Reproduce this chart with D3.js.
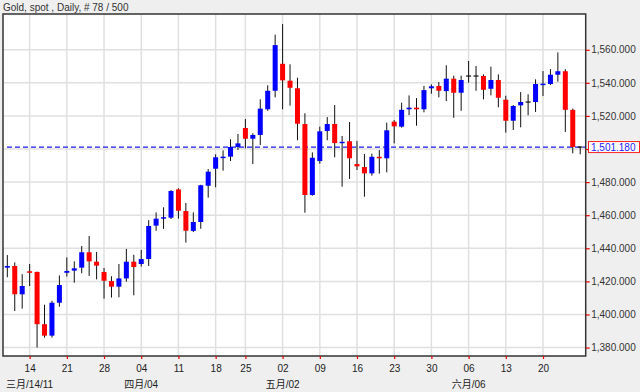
<!DOCTYPE html>
<html>
<head>
<meta charset="utf-8">
<script src="https://cdn.jsdelivr.net/npm/d3@7"></script>
<style>
  html, body { margin: 0; padding: 0; background: #efefef; }
  svg { display: block; font-family: "Liberation Sans", Arial, "Noto Sans CJK SC", sans-serif; }
</style>
</head>
<body>
<svg></svg>
<script>
// DATA ////////////////////////////////////////////////////////////////////////
const title = 'Gold, spot , Daily, # 78 / 500';

const dates = [
  '2011-03-09','2011-03-10','2011-03-11',
  '2011-03-14','2011-03-15','2011-03-16','2011-03-17','2011-03-18',
  '2011-03-21','2011-03-22','2011-03-23','2011-03-24','2011-03-25',
  '2011-03-28','2011-03-29','2011-03-30','2011-03-31','2011-04-01',
  '2011-04-04','2011-04-05','2011-04-06','2011-04-07','2011-04-08',
  '2011-04-11','2011-04-12','2011-04-13','2011-04-14','2011-04-15',
  '2011-04-18','2011-04-19','2011-04-20','2011-04-21',
  '2011-04-25','2011-04-26','2011-04-27','2011-04-28','2011-04-29',
  '2011-05-02','2011-05-03','2011-05-04','2011-05-05','2011-05-06',
  '2011-05-09','2011-05-10','2011-05-11','2011-05-12','2011-05-13',
  '2011-05-16','2011-05-17','2011-05-18','2011-05-19','2011-05-20',
  '2011-05-23','2011-05-24','2011-05-25','2011-05-26','2011-05-27',
  '2011-05-30','2011-05-31','2011-06-01','2011-06-02','2011-06-03',
  '2011-06-06','2011-06-07','2011-06-08','2011-06-09','2011-06-10',
  '2011-06-13','2011-06-14','2011-06-15','2011-06-16','2011-06-17',
  '2011-06-20','2011-06-21','2011-06-22','2011-06-23','2011-06-24',
  '2011-06-27'
];

const open = [
  1428.3,1429.3,1412.2,
  1426.1,1425.7,1394.1,1387.2,1407.1,
  1425.2,1426.5,1428.3,1437.6,1431.9,
  1425.7,1420.2,1416.8,1421.8,1431.9,
  1430.5,1433.5,1453.7,1458.0,1458.5,
  1475.6,1462.5,1450.5,1455.9,1477.8,
  1488.1,1494.7,1495.4,1501.2,
  1512.7,1506.2,1508.5,1524.0,1535.2,
  1551.5,1541.3,1536.7,1515.1,1472.2,
  1492.7,1510.9,1515.1,1503.6,1504.7,
  1490.9,1489.1,1485.3,1495.3,1494.4,
  1516.5,1513.5,1524.0,1525.0,1524.0,
  1536.7,1538.1,1535.0,1542.5,1534.0,
  1544.1,1544.1,1544.1,1536.4,1541.7,
  1529.8,1517.1,1526.4,1528.4,1528.4,
  1538.9,1539.3,1544.9,1547.0,1523.7,
  1501.18
];

const high = [
  1435.9,1431.5,1424.3,
  1430.5,1425.9,1405.9,1408.3,1423.6,
  1434.5,1432.1,1441.4,1447.4,1437.8,
  1428.1,1423.1,1430.5,1439.6,1436.1,
  1439.0,1457.0,1461.7,1464.8,1475.2,
  1476.3,1467.4,1461.7,1478.4,1487.9,
  1496.8,1499.2,1505.9,1509.1,
  1518.1,1509.5,1530.0,1538.5,1569.1,
  1575.5,1551.2,1543.1,1521.6,1498.0,
  1513.5,1519.3,1526.6,1507.9,1516.3,
  1504.8,1497.0,1497.2,1499.4,1515.9,
  1517.5,1528.0,1532.4,1530.8,1538.1,
  1539.1,1540.5,1550.6,1544.3,1544.3,
  1553.2,1550.2,1545.1,1549.8,1545.1,
  1532.2,1526.6,1534.4,1533.1,1542.1,
  1547.1,1548.3,1558.4,1548.3,1524.4,
  1501.5
];

const low = [
  1422.5,1402.1,1403.5,
  1417.2,1380.0,1386.0,1386.0,1404.7,
  1422.9,1419.2,1424.9,1423.3,1421.2,
  1409.6,1410.2,1410.4,1419.8,1411.6,
  1428.9,1429.3,1450.6,1451.7,1457.7,
  1457.9,1443.4,1449.8,1451.8,1470.6,
  1476.9,1486.9,1492.7,1499.4,
  1500.4,1490.9,1502.4,1523.1,1531.2,
  1524.0,1526.2,1505.3,1461.5,1471.8,
  1491.1,1505.3,1495.0,1477.2,1481.9,
  1487.3,1471.2,1483.9,1485.1,1485.9,
  1503.4,1512.9,1520.5,1514.1,1522.2,
  1533.4,1531.2,1529.0,1518.9,1523.1,
  1540.1,1535.2,1530.0,1532.4,1525.2,
  1509.9,1511.5,1513.1,1520.4,1522.4,
  1532.0,1538.7,1540.7,1510.3,1497.4,
  1496.8
];

const close = [
  1429.3,1412.2,1417.2,
  1425.8,1394.1,1387.2,1407.1,1417.8,
  1426.3,1427.9,1437.6,1432.1,1429.5,
  1420.4,1416.8,1421.8,1431.9,1428.7,
  1433.5,1453.5,1457.9,1458.8,1474.6,
  1462.7,1450.6,1455.9,1478.1,1486.3,
  1495.0,1495.4,1501.2,1503.4,
  1506.2,1508.5,1524.4,1535.2,1562.8,
  1541.5,1537.0,1515.3,1472.2,1494.7,
  1510.7,1515.1,1503.6,1504.4,1494.4,
  1489.5,1485.3,1495.3,1494.6,1511.3,
  1513.7,1523.7,1525.0,1524.0,1535.6,
  1537.9,1535.2,1542.5,1534.0,1541.7,
  1544.1,1544.1,1535.8,1541.7,1531.0,
  1517.1,1526.0,1528.4,1528.4,1539.3,
  1539.5,1544.9,1547.0,1523.7,1501.2,
  1501.18
];

const lastPrice = 1501.18;

// weekly ticks (Mondays) and their day labels
const tickDates = [
  '2011-03-14','2011-03-21','2011-03-28','2011-04-04','2011-04-11',
  '2011-04-18','2011-04-25','2011-05-02','2011-05-09','2011-05-16',
  '2011-05-23','2011-05-30','2011-06-06','2011-06-13','2011-06-20'
];
const tickLabels = ['14','21','28','04','11','18','25','02','09','16','23','30','06','13','20'];

// month labels under the day ticks
const monthDates = ['2011-03-14','2011-04-04','2011-05-02','2011-06-06'];
const monthLabels = ['三月/14/11','四月/04','五月/02','六月/06'];

const yTicks = [1380,1400,1420,1440,1460,1480,1500,1520,1540,1560];

// SET PARAMETERS //////////////////////////////////////////////////////////////
const svg = d3.select('svg').attr('width', 640).attr('height', 392);
const plot = { left: 3, right: 585.7, top: 14, bottom: 356 };

const data = dates.map((d, i) => ({
  i, date: d, open: open[i], high: high[i], low: low[i], close: close[i]
}));

// scales
const x = d3.scaleLinear().domain([-0.58, 77.74]).range([plot.left, plot.right]);
const y = d3.scaleLinear().domain([1374.9, 1581.6]).range([plot.bottom, plot.top]);

const tickIdx = tickDates.map(d => dates.indexOf(d));
const monthIdx = monthDates.map(d => dates.indexOf(d));

// DRAW ///////////////////////////////////////////////////////////////////////
// title
svg.append('text')
  .attr('x', 3)
  .attr('y', 10.5)
  .attr('font-size', 10)
  .attr('fill', '#333')
  .text(title);

// plot background
svg.append('rect')
  .attr('x', plot.left)
  .attr('y', plot.top)
  .attr('width', plot.right - plot.left)
  .attr('height', plot.bottom - plot.top)
  .attr('fill', '#fff');

// grid
const grid = svg.append('g').attr('stroke', '#e0e0e0').attr('stroke-width', 1.5);
grid.selectAll('.hgrid')
  .data(yTicks)
  .enter()
  .append('line')
  .attr('x1', plot.left).attr('x2', plot.right)
  .attr('y1', d => y(d)).attr('y2', d => y(d));
grid.selectAll('.vgrid')
  .data(tickIdx)
  .enter()
  .append('line')
  .attr('x1', d => x(d)).attr('x2', d => x(d))
  .attr('y1', plot.top).attr('y2', plot.bottom);

// last price dashed line
svg.append('line')
  .attr('x1', plot.left + 4)
  .attr('x2', plot.right)
  .attr('y1', y(lastPrice))
  .attr('y2', y(lastPrice))
  .attr('stroke', '#1a1aff')
  .attr('stroke-width', 1.2)
  .attr('stroke-dasharray', '5,3');

// candles
const bodyW = 5;
const candles = svg.append('g');

candles.selectAll('.wick')
  .data(data)
  .enter()
  .append('line')
  .attr('x1', d => x(d.i)).attr('x2', d => x(d.i))
  .attr('y1', d => y(d.high)).attr('y2', d => y(d.low))
  .attr('stroke', '#111')
  .attr('stroke-width', 1);

candles.selectAll('.body')
  .data(data.filter(d => d.open !== d.close))
  .enter()
  .append('rect')
  .attr('x', d => x(d.i) - bodyW / 2)
  .attr('y', d => y(Math.max(d.open, d.close)))
  .attr('width', bodyW)
  .attr('height', d => Math.max(1.5, Math.abs(y(d.open) - y(d.close))))
  .attr('fill', d => d.close > d.open ? '#0000ff' : '#ff0000');

candles.selectAll('.doji')
  .data(data.filter(d => d.open === d.close))
  .enter()
  .append('line')
  .attr('x1', d => x(d.i) - bodyW / 2).attr('x2', d => x(d.i) + bodyW / 2)
  .attr('y1', d => y(d.open)).attr('y2', d => y(d.open))
  .attr('stroke', '#111')
  .attr('stroke-width', 1.2);

// frame
svg.append('rect')
  .attr('x', plot.left)
  .attr('y', plot.top)
  .attr('width', plot.right - plot.left)
  .attr('height', plot.bottom - plot.top)
  .attr('fill', 'none')
  .attr('stroke', '#333')
  .attr('stroke-width', 1.5);

// add y axis (right); the 1,500 label sits under the last price box
const yAxis = svg.append('g')
  .attr('transform', `translate(${plot.right},0)`)
  .call(d3.axisRight(y).tickValues(yTicks).tickSize(4).tickSizeOuter(0).tickPadding(1.5)
    .tickFormat(d => Math.abs(y(d) - y(lastPrice)) < 10 ? '' : d3.format(',.3f')(d)));
yAxis.select('.domain').remove();
yAxis.selectAll('line').attr('stroke', '#e00').attr('stroke-width', 1.2);
yAxis.selectAll('text')
  .attr('font-size', 10)
  .attr('fill', '#333')
  .style('font-family', '"Liberation Sans", Arial, sans-serif');

// add x axis (bottom)
const xAxis = svg.append('g')
  .attr('transform', `translate(0,${plot.bottom})`)
  .call(d3.axisBottom(x).tickValues(tickIdx).tickSize(3).tickSizeOuter(0).tickPadding(6)
    .tickFormat((d, k) => tickLabels[k]));
xAxis.select('.domain').remove();
xAxis.selectAll('line').attr('stroke', '#e00').attr('stroke-width', 1.2);
xAxis.selectAll('text')
  .attr('font-size', 10)
  .attr('fill', '#222')
  .style('font-family', '"Liberation Sans", Arial, sans-serif');

// month labels
svg.selectAll('.month')
  .data(monthIdx)
  .enter()
  .append('text')
  .attr('class', 'month')
  .attr('x', d => x(d))
  .attr('y', 388)
  .attr('text-anchor', 'middle')
  .attr('font-size', 10)
  .attr('fill', '#222')
  .text((d, k) => monthLabels[k]);

// last price label
const lp = svg.append('g').attr('transform', `translate(588,${y(lastPrice)})`);
lp.append('rect')
  .attr('x', 0.5).attr('y', -5.5)
  .attr('width', 51).attr('height', 11)
  .attr('fill', '#fff')
  .attr('stroke', '#ff2020')
  .attr('stroke-width', 1);
lp.append('text')
  .attr('x', 3)
  .attr('y', 3.8)
  .attr('font-size', 10)
  .attr('fill', '#1a1aff')
  .text(d3.format(',.3f')(lastPrice));
</script>
</body>
</html>
